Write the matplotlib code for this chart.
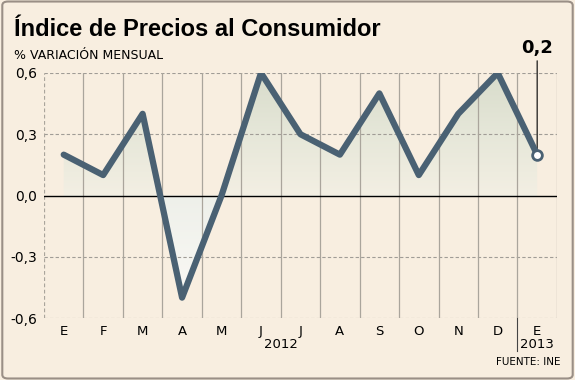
import numpy as np
import matplotlib
matplotlib.use("Agg")
import matplotlib.pyplot as plt
from matplotlib.patches import FancyBboxPatch, Polygon
from matplotlib.colors import LinearSegmentedColormap

months = ["E", "F", "M", "A", "M", "J", "J", "A", "S", "O", "N", "D", "E"]
values = [0.2, 0.1, 0.4, -0.5, 0.0, 0.6, 0.3, 0.2, 0.5, 0.1, 0.4, 0.6, 0.2]
yticks = [-0.6, -0.3, 0.0, 0.3, 0.6]
ytick_labels = ["-0,6", "-0,3", "0,0", "0,3", "0,6"]
years = ["2012", "2013"]

bg = "#f8eee0"
line_c = "#4a6173"

fig = plt.figure(figsize=(5.75, 3.8), dpi=100)
fig.patch.set_facecolor(bg)
frame = FancyBboxPatch((0.004, 0.004), 0.992, 0.992, boxstyle="round,pad=0,rounding_size=0.01",
                       transform=fig.transFigure, facecolor="none", edgecolor="#9a8f86",
                       linewidth=1.5, zorder=10)
fig.patches.append(frame)

ax = fig.add_axes([0.0765, 0.163, 0.892, 0.645])
ax.set_facecolor("none")
x = np.arange(len(values))
ax.set_xlim(-0.5, len(values) - 0.5)
ax.set_ylim(-0.6, 0.6)

# gradient fill between line and zero
xs = np.concatenate([[x[0]], x, [x[-1]]])
ys = np.concatenate([[0], values, [0]])
poly = Polygon(np.column_stack([xs, ys]), closed=True, facecolor="none", edgecolor="none",
               transform=ax.transData)
ax.add_patch(poly)
cmap = LinearSegmentedColormap.from_list("g", ["#f3efe3", "#e6e7d9", "#d8dccb"])
grad = np.linspace(0, 0.6, 200).reshape(-1, 1)
im = ax.imshow(grad, extent=[-0.5, len(values) - 0.5, 0, 0.6], origin="lower",
               aspect="auto", cmap=cmap, vmin=0, vmax=0.6, zorder=1)
im.set_clip_path(poly)
cmap2 = LinearSegmentedColormap.from_list("w", ["#fcfaf6", "#eef0ea"])
grad2 = np.linspace(0, 0.6, 200).reshape(-1, 1)
im2 = ax.imshow(grad2, extent=[-0.5, len(values) - 0.5, -0.6, 0], origin="lower",
                aspect="auto", cmap=cmap2, vmin=0, vmax=0.6, zorder=1)
im2.set_clip_path(poly)

# grid
for yv in [-0.6, -0.3, 0.3, 0.6]:
    ax.axhline(yv, color="#a09c96", lw=0.8, ls=(0, (3, 2)), zorder=2)
for xv in np.arange(0.5, len(values) - 1, 1.0):
    ax.axvline(xv, color="#aaa59c", lw=0.9, zorder=2)
ax.axvline(len(values) - 0.5, color="#aaa59c", lw=0.9, zorder=2)
ax.axvline(-0.5, color="#aaa59c", lw=0.9, ls=(0, (3, 2)), zorder=2)
ax.axhline(0, color="black", lw=1.0, zorder=3)

ax.plot(x, values, color=line_c, lw=4.5, solid_joinstyle="round", solid_capstyle="round",
        zorder=4)
ax.plot(x[-1], values[-1], "o", ms=7, mfc="white", mec=line_c, mew=2, zorder=5)

for s in ax.spines.values():
    s.set_visible(False)
ax.set_xticks(x)
ax.set_xticklabels(months, fontsize=9.5)
ax.set_yticks(yticks)
ax.set_yticklabels(ytick_labels, fontsize=10)
ax.tick_params(length=0, pad=5)

# year separator
ax.plot([11.5, 11.5], [-0.6, -0.76], color="#444444", lw=0.8, clip_on=False)
ax.text(5.5, -0.70, years[0], ha="center", va="top", fontsize=9.5)
ax.text(12, -0.70, years[1], ha="center", va="top", fontsize=9.5)

# annotation
ax.annotate("0,2", xy=(x[-1], values[-1]), xytext=(x[-1], 0.68), ha="center", va="bottom",
            fontsize=13, fontweight="bold",
            arrowprops=dict(arrowstyle="-", color="black", lw=0.8, shrinkA=1, shrinkB=4))

fig.text(0.024, 0.905, "Índice de Precios al Consumidor", fontsize=17, fontweight="bold",
         ha="left", va="baseline", family="Liberation Sans")
fig.text(0.024, 0.845, "% VARIACIÓN MENSUAL", fontsize=9, ha="left", va="baseline")
fig.text(0.975, 0.035, "FUENTE: INE", fontsize=7.5, ha="right", va="bottom")

fig.savefig("out.png", dpi=100, facecolor=bg)
